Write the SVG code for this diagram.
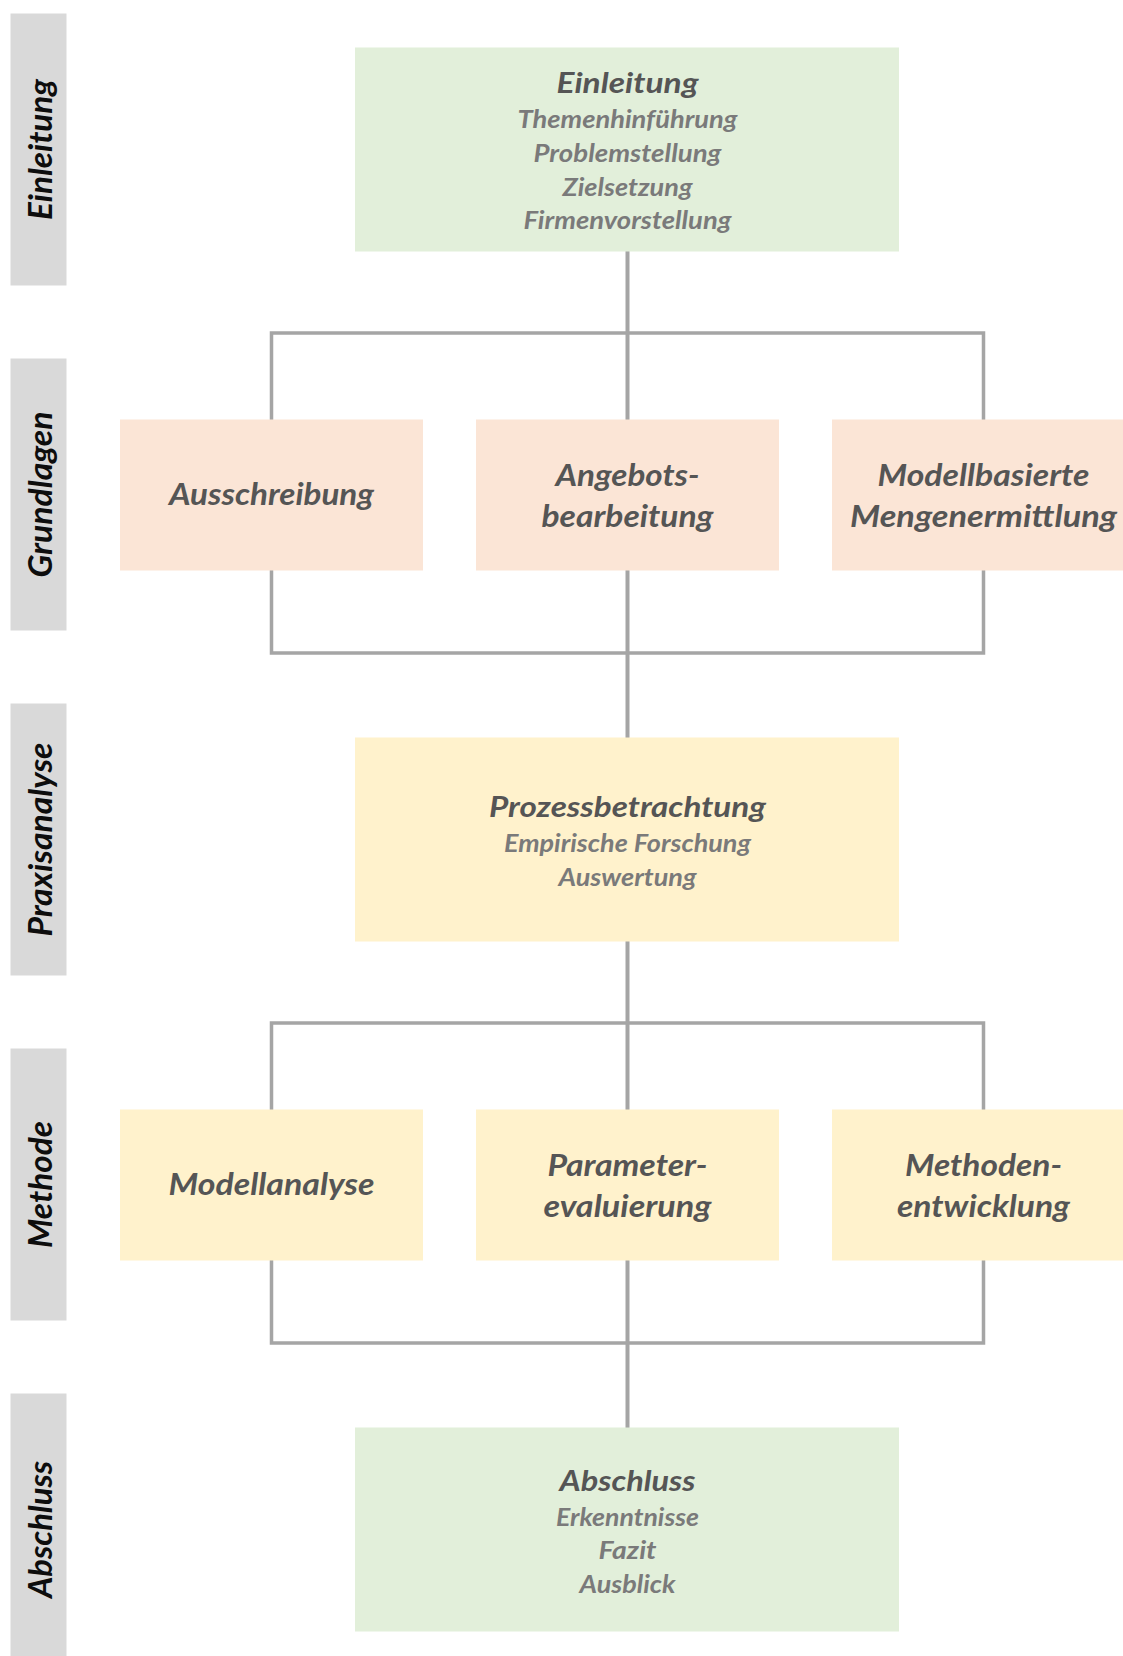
<svg xmlns="http://www.w3.org/2000/svg" width="1123" height="1656" viewBox="0 0 1123 1656">
  <style>
    text { font-family: Lato, "Open Sans", "Liberation Sans", sans-serif; font-weight: bold; font-style: italic; text-anchor: middle; }
    .band { fill: #D9D9D9; }
    .band-label { font-size: 32px; fill: #0D0D0D; }
    .green { fill: #E2EFDA; }
    .peach { fill: #FBE5D6; }
    .yellow { fill: #FFF2CC; }
    .title { font-size: 29px; fill: #555555; }
    .sub { font-size: 25px; fill: #7A7A7A; }
    .label { font-size: 31px; fill: #555555; }
    .wire { fill: none; stroke: #A5A5A5; stroke-width: 3.5; }
    .trunk { fill: none; stroke: #A5A5A5; stroke-width: 4; }
  </style>

  <rect width="1123" height="1656" fill="#FFFFFF"/>

  <!-- chapter bands on the left -->
  <g id="band-einleitung">
    <rect class="band" x="10.5" y="13.5" width="56" height="272"/>
    <text class="band-label" transform="translate(52,149.5) rotate(-90)" textLength="141" lengthAdjust="spacingAndGlyphs">Einleitung</text>
  </g>
  <g id="band-grundlagen">
    <rect class="band" x="10.5" y="358.5" width="56" height="272"/>
    <text class="band-label" transform="translate(52,494.5) rotate(-90)" textLength="166" lengthAdjust="spacingAndGlyphs">Grundlagen</text>
  </g>
  <g id="band-praxisanalyse">
    <rect class="band" x="10.5" y="703.5" width="56" height="272"/>
    <text class="band-label" transform="translate(52,839.5) rotate(-90)" textLength="194" lengthAdjust="spacingAndGlyphs">Praxisanalyse</text>
  </g>
  <g id="band-methode">
    <rect class="band" x="10.5" y="1048.5" width="56" height="272"/>
    <text class="band-label" transform="translate(52,1184.5) rotate(-90)" textLength="127" lengthAdjust="spacingAndGlyphs">Methode</text>
  </g>
  <g id="band-abschluss">
    <rect class="band" x="10.5" y="1393.5" width="56" height="272"/>
    <text class="band-label" transform="translate(52,1529.5) rotate(-90)" textLength="137" lengthAdjust="spacingAndGlyphs">Abschluss</text>
  </g>

  <!-- connectors -->
  <g id="connectors">
    <!-- Einleitung to Grundlagen -->
    <line class="trunk" x1="627.5" y1="251" x2="627.5" y2="420"/>
    <path class="wire" d="M271.5 420 V333 H983.5 V420"/>
    <!-- Grundlagen to Praxisanalyse -->
    <path class="wire" d="M271.5 570 V653 H983.5 V570"/>
    <line class="trunk" x1="627.5" y1="570" x2="627.5" y2="738"/>
    <!-- Praxisanalyse to Methode -->
    <line class="trunk" x1="627.5" y1="941" x2="627.5" y2="1110"/>
    <path class="wire" d="M271.5 1110 V1023 H983.5 V1110"/>
    <!-- Methode to Abschluss -->
    <path class="wire" d="M271.5 1260 V1343 H983.5 V1260"/>
    <line class="trunk" x1="627.5" y1="1260" x2="627.5" y2="1428"/>
  </g>

  <!-- Einleitung -->
  <g id="node-einleitung">
    <rect class="green" x="355" y="47.5" width="544" height="204"/>
    <text class="title" x="627.5" y="93" textLength="142" lengthAdjust="spacingAndGlyphs">Einleitung</text>
    <text class="sub" x="627.5" y="128" textLength="220" lengthAdjust="spacingAndGlyphs">Themenhinführung</text>
    <text class="sub" x="627.5" y="162" textLength="188" lengthAdjust="spacingAndGlyphs">Problemstellung</text>
    <text class="sub" x="627.5" y="195.5" textLength="130" lengthAdjust="spacingAndGlyphs">Zielsetzung</text>
    <text class="sub" x="627.5" y="228.5" textLength="208" lengthAdjust="spacingAndGlyphs">Firmenvorstellung</text>
  </g>

  <!-- Grundlagen -->
  <g id="node-ausschreibung">
    <rect class="peach" x="120" y="419.5" width="303" height="151"/>
    <text class="label" x="271.5" y="505" textLength="205" lengthAdjust="spacingAndGlyphs">Ausschreibung</text>
  </g>
  <g id="node-angebotsbearbeitung">
    <rect class="peach" x="476" y="419.5" width="303" height="151"/>
    <text class="label" x="627.5" y="486" textLength="144" lengthAdjust="spacingAndGlyphs">Angebots-</text>
    <text class="label" x="627.5" y="527" textLength="172" lengthAdjust="spacingAndGlyphs">bearbeitung</text>
  </g>
  <g id="node-mengenermittlung">
    <rect class="peach" x="832" y="419.5" width="303" height="151"/>
    <text class="label" x="983.5" y="486" textLength="212" lengthAdjust="spacingAndGlyphs">Modellbasierte</text>
    <text class="label" x="983.5" y="527" textLength="267" lengthAdjust="spacingAndGlyphs">Mengenermittlung</text>
  </g>

  <!-- Praxisanalyse -->
  <g id="node-prozessbetrachtung">
    <rect class="yellow" x="355" y="737.5" width="544" height="204"/>
    <text class="title" x="627.5" y="817" textLength="277" lengthAdjust="spacingAndGlyphs">Prozessbetrachtung</text>
    <text class="sub" x="627.5" y="852" textLength="247" lengthAdjust="spacingAndGlyphs">Empirische Forschung</text>
    <text class="sub" x="627.5" y="885.5" textLength="138" lengthAdjust="spacingAndGlyphs">Auswertung</text>
  </g>

  <!-- Methode -->
  <g id="node-modellanalyse">
    <rect class="yellow" x="120" y="1109.5" width="303" height="151"/>
    <text class="label" x="271.5" y="1195" textLength="206" lengthAdjust="spacingAndGlyphs">Modellanalyse</text>
  </g>
  <g id="node-parameterevaluierung">
    <rect class="yellow" x="476" y="1109.5" width="303" height="151"/>
    <text class="label" x="627.5" y="1176" textLength="160" lengthAdjust="spacingAndGlyphs">Parameter-</text>
    <text class="label" x="627.5" y="1217" textLength="168" lengthAdjust="spacingAndGlyphs">evaluierung</text>
  </g>
  <g id="node-methodenentwicklung">
    <rect class="yellow" x="832" y="1109.5" width="303" height="151"/>
    <text class="label" x="983.5" y="1176" textLength="157" lengthAdjust="spacingAndGlyphs">Methoden-</text>
    <text class="label" x="983.5" y="1217" textLength="173" lengthAdjust="spacingAndGlyphs">entwicklung</text>
  </g>

  <!-- Abschluss -->
  <g id="node-abschluss">
    <rect class="green" x="355" y="1427.5" width="544" height="204"/>
    <text class="title" x="627.5" y="1491" textLength="136" lengthAdjust="spacingAndGlyphs">Abschluss</text>
    <text class="sub" x="627.5" y="1526" textLength="143" lengthAdjust="spacingAndGlyphs">Erkenntnisse</text>
    <text class="sub" x="627.5" y="1559" textLength="58" lengthAdjust="spacingAndGlyphs">Fazit</text>
    <text class="sub" x="627.5" y="1593" textLength="96" lengthAdjust="spacingAndGlyphs">Ausblick</text>
  </g>
</svg>
